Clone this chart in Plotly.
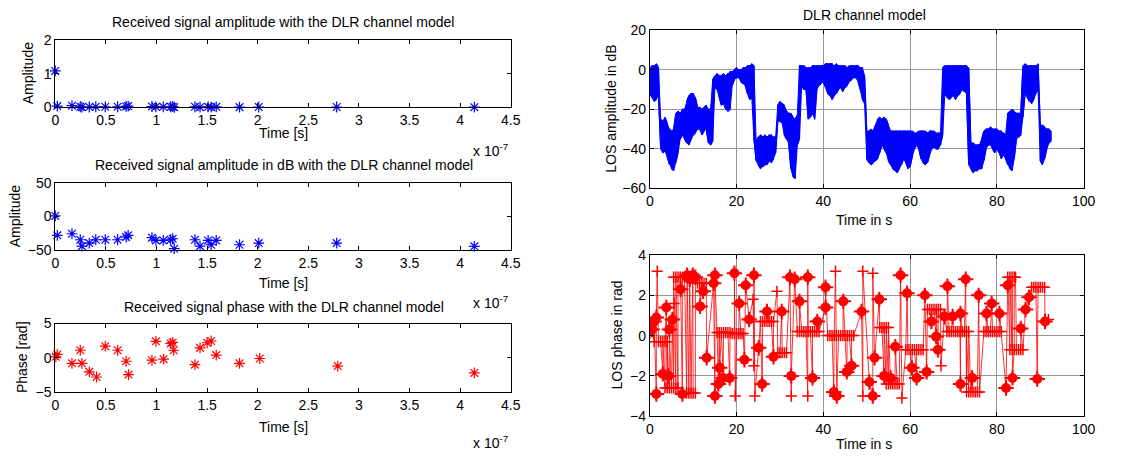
import plotly.graph_objects as go

W, H = 1142, 457

# ---------------- Left column data (time in units of 1e-7 s) ----------------
DELAY = [0.0, 0.02, 0.165, 0.247, 0.263, 0.336, 0.40, 0.494, 0.616, 0.70, 0.72,
         0.955, 0.994, 1.067, 1.14, 1.16, 1.175, 1.38, 1.43, 1.51, 1.54, 1.59,
         1.82, 2.01, 2.78, 4.14]
AMP_LIN = [1.08, 0.040, 0.052, 0.019, 0.006, 0.011, 0.019, 0.019, 0.019, 0.030, 0.040,
           0.027, 0.017, 0.017, 0.019, 0.022, 0.004, 0.019, 0.006, 0.017, 0.008, 0.017,
           0.008, 0.011, 0.011, 0.006]
AMP_DB = [0.7, -28, -25.6, -34.5, -44, -39.4, -34.5, -34.5, -34.5, -30.5, -28,
          -31.5, -35.5, -35.5, -34.5, -33, -47.8, -34.5, -44, -35.5, -41.9, -35.5,
          -41.9, -39.4, -39.4, -44.3]
PHASE_DELAY = [0.006, 0.02, 0.165, 0.247, 0.263, 0.336, 0.408, 0.494, 0.616, 0.70, 0.724,
               0.955, 0.994, 1.07, 1.14, 1.16, 1.17, 1.38, 1.43, 1.50, 1.54, 1.59,
               1.82, 2.02, 2.79, 4.14]
PHASE = [0.15, 0.5, -0.8, 1.1, -0.8, -2.05, -2.8, 1.7, 1.1, -0.5, -2.45,
         -0.35, 2.4, -0.2, 2.1, 2.25, 1.1, -1.0, 1.45, 2.2, 2.45, 0.4,
         -0.8, -0.1, -1.2, -2.2]

# ---------------- Right top: LOS amplitude envelope, sampled every 0.5 s ----------------
LOS_STEP = 0.5
LOS_HI = [1, 2, 2, 3, 1, -25, -26, -24, -27, -30,
          -31, -30, -22, -21, -22, -20, -20, -16, -13, -12,
          -12, -14, -19, -19, -20, -19, -18, -20, -20, -5,
          -3, -2, -3, -3, -2, -3, -2, -1, -1, 0,
          1, 0, 0, 1, 1, 2, 2, 3, 2, -36,
          -34, -33, -34, -33, -34, -33, -33, -34, -34, -18,
          -16, -17, -18, -21, -22, -22, -24, -25, -23, 2,
          2, 2, 1, 1, 1, 2, 2, 2, 2, 2,
          2, 3, 3, 3, 3, 2, 3, 2, 2, 2,
          2, 1, 2, 2, 2, 2, 2, 1, 1, -3,
          -31, -31, -30, -31, -28, -25, -24, -25, -24, -25,
          -28, -31, -31, -31, -31, -31, -31, -31, -31, -31,
          -31, -31, -32, -32, -31, -31, -31, -31, -32, -31,
          -31, -31, -32, -32, -32, 1, 2, 2, 2, 2,
          2, 2, 2, 2, 2, 2, 2, 1, -37, -37,
          -38, -38, -38, -35, -31, -30, -30, -29, -30, -30,
          -30, -31, -31, -32, -33, -22, -21, -20, -21, -22,
          -22, -22, 2, 3, 2, 2, 2, 2, 2, 3,
          -28, -28, -29, -30, -30, -31]
LOS_LO = [-12, -14, -16, -15, -13, -40, -42, -41, -44, -48,
          -50, -51, -47, -42, -35, -33, -35, -37, -38, -35,
          -33, -32, -30, -30, -33, -31, -30, -37, -38, -36,
          -9, -10, -14, -18, -17, -20, -21, -20, -8, -5,
          -4, -4, -6, -7, -8, -12, -15, -14, -35, -46,
          -48, -50, -49, -48, -48, -46, -47, -45, -42, -26,
          -26, -27, -33, -35, -37, -50, -54, -55, -38, -35,
          -8, -10, -10, -25, -24, -22, -25, -10, -8, -7,
          -6, -9, -12, -13, -15, -13, -12, -10, -9, -11,
          -9, -8, -6, -5, -4, -4, -6, -10, -15, -17,
          -45, -47, -48, -47, -46, -45, -42, -38, -40, -42,
          -46, -48, -50, -51, -52, -50, -48, -45, -47, -50,
          -49, -44, -40, -38, -40, -45, -47, -48, -47, -43,
          -40, -39, -40, -40, -38, -33, -12, -14, -15, -14,
          -13, -15, -13, -12, -10, -11, -12, -48, -50, -52,
          -51, -51, -50, -50, -46, -40, -38, -38, -40, -42,
          -40, -42, -45, -43, -45, -48, -50, -51, -45, -35,
          -34, -33, -24, -12, -14, -16, -17, -15, -12, -10,
          -46, -48, -45, -40, -37, -36]

# ---------------- Right bottom: LOS phase ----------------
BLOB_T = [0.5, 1.0, 1.5, 1.5, 3.0, 3.8, 4.3, 4.5, 5.2, 7.1, 7.5, 8.6, 9.2, 9.9, 10.5,
          11.6, 12.3, 13.1, 14.7, 15.0, 15.0, 15.8, 16.1, 16.9, 18.4, 19.5, 20.6, 21.8,
          22.1, 22.9, 24.0, 25.1, 25.9, 27.0, 28.5, 30.4, 32.3, 32.6, 33.4, 34.5, 36.4,
          37.5, 38.6, 40.5, 40.5, 42.4, 43.1, 44.6, 45.4, 46.5, 48.8, 50.6, 51.4, 51.8,
          52.9, 54.0, 55.5, 56.6, 57.8, 59.3, 60.4, 61.5, 63.4, 63.8, 64.9, 66.0, 66.4,
          67.9, 68.6, 69.8, 71.6, 71.6, 72.8, 74.3, 75.8, 77.6, 78.8, 80.6, 82.1, 82.5,
          83.6, 85.5, 86.6, 87.4, 89.3, 91.1]
BLOB_V = [0.3, 0.7, 0.9, -2.9, -1.9, 1.4, -2.0, 0.3, 0.8, 2.3, -2.9, 3.0, 2.8, 3.0, 2.9,
          1.45, 2.2, -1.1, 2.6, 3.0, -3.0, -2.4, -1.6, -2.1, -2.1, 3.1, 1.6, -1.2,
          2.5, 0.8, 3.0, -0.6, -2.4, 1.2, -1.05, 1.2, 2.9, -2.0, 2.8, 1.7, 2.9,
          -2.1, 0.7, 1.4, 2.4, -2.8, -3.0, 1.7, -1.8, -1.5, 1.2, -2.3, -3.0, -1.1,
          1.8, -2.0, -2.1, -0.55, 3.0, 2.1, -1.6, -2.1, 2.0, -1.8, 0.7, -0.05, -0.7,
          0.95, 2.45, 0.95, 1.1, -2.4, 2.8, -2.1, 2.0, 1.1, 1.6, 1.1, -2.6, 2.5,
          -2.1, 0.35, 1.3, 1.9, -2.15, 0.7]
PLUS_T = [0.0, 1.0, 1.7, 2.0, 2.5, 3.0, 3.5, 4.0, 3.5, 4.0, 4.5, 5.0, 5.5, 6.0, 6.5,
          5.6, 5.5, 6.0, 6.5, 7.0, 7.5, 8.0, 8.5, 8.5, 9.0, 9.5, 10.0, 10.5,
          11.0, 11.5, 12.0, 12.5, 13.0, 15.5, 16.0, 16.5, 17.0, 17.5, 18.0, 18.5, 19.0,
          19.5, 20.0, 20.5, 21.0, 21.5, 19.7, 23.8, 24.0, 24.2, 25.5, 26.0, 26.5, 27.0,
          27.5, 28.0, 28.5, 29.3, 29.5, 30.0, 30.5, 31.0, 31.5, 32.6,
          34.0, 34.5, 35.0, 35.5, 36.0, 36.5, 37.0, 37.5, 38.0, 38.5, 39.0, 36.4,
          41.0, 41.5, 42.0, 42.5, 43.0, 43.5, 44.0, 44.5, 45.0, 45.5, 46.0, 46.5, 47.0,
          42.8, 49.1, 49.1, 51.4, 53.0, 53.5, 54.0, 54.5, 55.0, 54.5, 55.0, 55.5, 56.0,
          56.5, 57.0, 57.5, 58.1, 59.0, 59.5, 60.0, 60.5, 61.0, 61.5, 62.0, 62.5, 63.0,
          64.0, 64.5, 65.0, 65.5, 66.0, 66.5, 67.0, 67.1, 68.5, 69.0, 69.5, 70.0, 70.5,
          71.0, 71.5, 72.0, 72.5, 73.0, 73.5, 73.0, 73.5, 74.0, 74.5, 75.0, 75.5, 76.0,
          77.0, 77.5, 78.0, 78.5, 79.0, 79.5, 80.0, 80.5, 81.0, 82.5, 83.0, 83.5, 84.0,
          84.3, 83.0, 83.5, 84.0, 84.5, 85.0, 85.5, 86.0, 88.0, 88.5, 89.0, 89.5, 90.0,
          90.5, 91.0, 91.9]
PLUS_V = [0.1, -0.3, 3.2, -0.3, -0.3, -0.3, -0.3, -0.3, -2.6, -2.6, -2.6, -2.6, -2.6, -2.6, -2.6,
          1.6, 2.9, 2.9, 2.9, 2.9, 2.9, 2.9, 2.9, -2.85, -2.85, -2.85, -2.85, -2.85,
          2.6, 2.6, 2.6, 2.6, 2.6, 0.15, 0.15, 0.15, 0.15, 0.15, 0.15, 0.15, 0.1,
          0.1, 0.1, 0.1, 0.1, 0.1, -3.0, 1.8, -1.5, -3.0, 0.7, 0.7, 0.7, 0.7,
          0.7, 0.7, 0.7, 2.2, -0.85, -0.85, -0.85, -0.85, -0.85, -3.0,
          0.2, 0.2, 0.2, 0.2, 0.2, 0.2, 0.2, 0.2, 0.2, 0.2, 0.2, -3.0,
          0.0, 0.0, 0.0, 0.0, 0.0, 0.0, 0.0, 0.0, 0.0, 0.0, 0.0, 0.0, 0.0,
          3.2, 3.2, -3.0, 3.1, 0.4, 0.4, 0.4, 0.4, 0.4, -2.4, -2.4, -2.4, -2.4,
          -2.4, -2.4, -2.4, -3.1, -0.7, -0.7, -0.7, -0.7, -0.7, -0.7, -0.7, -0.7, -0.7,
          1.3, 1.3, 1.3, 1.3, 1.3, 1.3, 1.3, -1.5, 0.2, 0.2, 0.2, 0.2, 0.2,
          0.2, 0.2, 0.2, 0.2, 0.2, 0.2, -2.8, -2.8, -2.8, -2.8, -2.8, -2.8, -2.8,
          0.2, 0.2, 0.2, 0.2, 0.2, 0.2, 0.2, 0.2, 0.2, 2.9, 2.9, 2.9, 2.9,
          2.9, -0.7, -0.7, -0.7, -0.7, -0.7, -0.7, -0.7, 2.4, 2.4, 2.4, 2.4, 2.4,
          2.4, 2.4, 0.8]

FONT = "Arial, Liberation Sans, sans-serif"
FS = 14
BLUE = "#0000ff"
RED = "#ff0000"

fig = go.Figure()

# Left plots
star = dict(symbol="asterisk-open", size=9)
fig.add_trace(go.Scatter(x=DELAY, y=AMP_LIN, mode="markers", xaxis="x", yaxis="y",
                         marker=dict(star, color=BLUE, line=dict(color=BLUE, width=1.2)),
                         cliponaxis=False))
fig.add_trace(go.Scatter(x=DELAY, y=AMP_DB, mode="markers", xaxis="x2", yaxis="y2",
                         marker=dict(star, color=BLUE, line=dict(color=BLUE, width=1.2)),
                         cliponaxis=False))
fig.add_trace(go.Scatter(x=PHASE_DELAY, y=PHASE, mode="markers", xaxis="x3", yaxis="y3",
                         marker=dict(star, color=RED, line=dict(color=RED, width=1.2)),
                         cliponaxis=False))

# Right top: filled band between the envelopes plus a zig-zag trace for texture
t_grid = [i * LOS_STEP for i in range(len(LOS_HI))]
fig.add_trace(go.Scatter(x=t_grid, y=LOS_LO, mode="lines", xaxis="x4", yaxis="y4",
                         line=dict(color=BLUE, width=1)))
fig.add_trace(go.Scatter(x=t_grid, y=LOS_HI, mode="lines", xaxis="x4", yaxis="y4",
                         line=dict(color=BLUE, width=1), fill="tonexty", fillcolor=BLUE))
lx, ly = [], []
for i, (h, l) in enumerate(zip(LOS_HI, LOS_LO)):
    pair = (h, l) if i % 2 == 0 else (l, h)
    lx += [t_grid[i], t_grid[i]]
    ly += list(pair)
fig.add_trace(go.Scatter(x=lx, y=ly, mode="lines", xaxis="x4", yaxis="y4",
                         line=dict(color=BLUE, width=1.2)))

# Right bottom: phase
pts = sorted(list(zip(BLOB_T, BLOB_V)) + list(zip(PLUS_T, PLUS_V)))
fig.add_trace(go.Scatter(x=[p[0] for p in pts], y=[p[1] for p in pts], mode="lines+markers",
                         xaxis="x5", yaxis="y5",
                         line=dict(color="rgba(255,0,0,0.8)", width=1),
                         marker=dict(symbol="cross-thin-open", size=8, color=RED, line=dict(color=RED, width=1.5))))
fig.add_trace(go.Scatter(x=BLOB_T, y=BLOB_V, mode="markers", xaxis="x5", yaxis="y5",
                         marker=dict(symbol="cross-thin-open", size=11, color=RED, line=dict(color=RED, width=2))))
fig.add_trace(go.Scatter(x=BLOB_T, y=BLOB_V, mode="markers", xaxis="x5", yaxis="y5",
                         marker=dict(symbol="circle", size=10, color=RED, line=dict(width=0))))


def px_x(p):
    return p / W


def px_y(p):
    return 1 - p / H


def axis(domain_px, rng, dtick, grid=False, horizontal=True):
    if horizontal:
        dom = [px_x(domain_px[0]), px_x(domain_px[1])]
    else:
        dom = [px_y(domain_px[1]), px_y(domain_px[0])]
    return dict(domain=dom, range=rng, dtick=dtick, tick0=rng[0], showline=True, linecolor="black",
                linewidth=1, mirror="ticks", ticks="inside", ticklen=4, tickcolor="black",
                zeroline=False, showgrid=grid, gridcolor="rgb(150,150,150)", gridwidth=1,
                tickfont=dict(family=FONT, size=FS, color="black"), fixedrange=True)


LX = (52, 514)
RX = (655, 1095)
layout = dict(
    width=W, height=H, margin=dict(l=0, r=0, t=0, b=0), showlegend=False,
    paper_bgcolor="white", plot_bgcolor="white",
    xaxis=dict(axis(LX, [0, 4.5], 0.5), anchor="y"),
    yaxis=dict(axis((33, 103), [0, 2], 1, horizontal=False), anchor="x"),
    xaxis2=dict(axis(LX, [0, 4.5], 0.5), anchor="y2"),
    yaxis2=dict(axis((181, 251), [-50, 50], 50, horizontal=False), anchor="x2"),
    xaxis3=dict(axis(LX, [0, 4.5], 0.5), anchor="y3"),
    yaxis3=dict(axis((327, 398), [-5, 5], 5, horizontal=False), anchor="x3"),
    xaxis4=dict(axis(RX, [0, 100], 20, grid=True), anchor="y4"),
    yaxis4=dict(axis((23, 187), [-60, 20], 20, grid=True, horizontal=False), anchor="x4"),
    xaxis5=dict(axis(RX, [0, 100], 20, grid=True), anchor="y5"),
    yaxis5=dict(axis((256, 423), [-4, 4], 2, grid=True, horizontal=False), anchor="x5"),
)
fig.update_layout(**layout)


def text(s, x, y, angle=0, xanchor="center", size=FS):
    fig.add_annotation(text=s, x=px_x(x), y=px_y(y), xref="paper", yref="paper",
                       showarrow=False, textangle=angle, xanchor=xanchor, yanchor="middle",
                       font=dict(family=FONT, size=size, color="black"))


text("Received signal amplitude with the DLR channel model", 283, 14)
text("Time [s]", 283, 130)
text("x 10<sup>-7</sup>", 474, 147, xanchor="left")
text("Amplitude", 24, 68, angle=-90)

text("Received signal amplitude in dB with the DLR channel model", 284, 163)
text("Time [s]", 283, 285)
text("x 10<sup>-7</sup>", 474, 305, xanchor="left")
text("Amplitude", 12, 216, angle=-90)

text("Received signal phase with the DLR channel model", 284, 310)
text("Time [s]", 283, 434)
text("x 10<sup>-7</sup>", 474, 450, xanchor="left")
text("Phase [rad]", 19, 362, angle=-90)

text("DLR channel model", 873, 7)
text("Time in s", 872, 220)
text("LOS amplitude in dB", 616, 104, angle=-90)

text("Time in s", 872, 452)
text("LOS phase in rad", 622, 339, angle=-90)

fig.write_html("out.html", config={"displayModeBar": False},
               post_script="document.body.style.margin='0';document.body.style.overflow='hidden';")
